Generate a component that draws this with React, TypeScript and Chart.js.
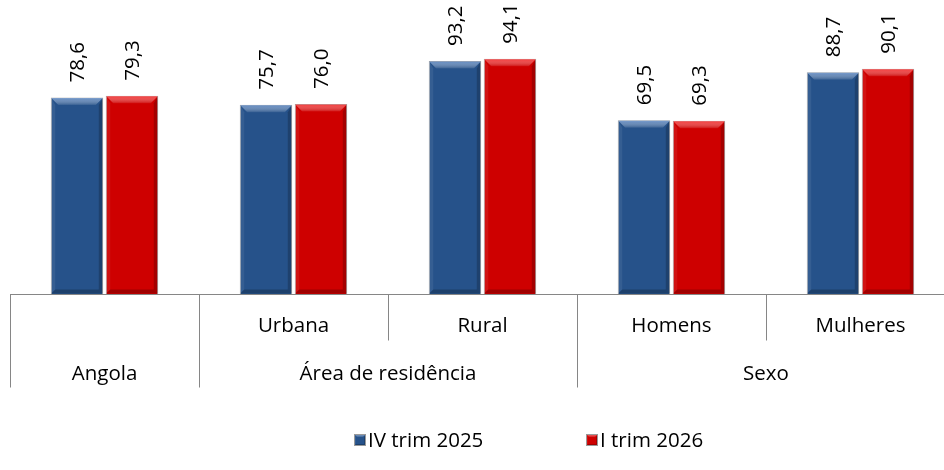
import React, { useEffect, useRef } from "react";
import { Chart, registerables } from "chart.js";

Chart.register(...registerables);

// ---- data ----
const categories = ["Angola", "Urbana", "Rural", "Homens", "Mulheres"];
const subLabels = ["", "Urbana", "Rural", "Homens", "Mulheres"];
const groupLabels = ["Angola", "Área de residência", "Sexo"];
const groupSpans = [1, 2, 2];
const seriesNames = ["IV trim 2025", "I trim 2026"];
const iv2025 = [78.6, 75.7, 93.2, 69.5, 88.7];
const i2026 = [79.3, 76.0, 94.1, 69.3, 90.1];
const seriesColors = ["#26528A", "#CE0000"];
const seriesLight = ["rgba(110,150,205,0.85)", "rgba(255,70,70,0.85)"];

const FONT = "'Open Sans', sans-serif";
const FS = 20.5;

function fmt(v: number) {
  return v.toFixed(1).replace(".", ",");
}

function drawBevel(ctx: CanvasRenderingContext2D, l: number, t: number, r: number, bt: number, light: string, small = false) {
  const tb = small ? 3 : 7;
  const sb = small ? 2 : 4;
  // top band
  const g = ctx.createLinearGradient(0, t, 0, t + tb);
  g.addColorStop(0, light);
  g.addColorStop(1, "rgba(255,255,255,0.08)");
  ctx.fillStyle = g;
  ctx.beginPath();
  ctx.moveTo(l, t);
  ctx.lineTo(r, t);
  ctx.lineTo(r - tb, t + tb);
  ctx.lineTo(l + tb, t + tb);
  ctx.closePath();
  ctx.fill();
  // left band
  ctx.fillStyle = "rgba(255,255,255,0.07)";
  ctx.beginPath();
  ctx.moveTo(l, t);
  ctx.lineTo(l + sb, t + tb);
  ctx.lineTo(l + sb, bt - sb);
  ctx.lineTo(l, bt);
  ctx.closePath();
  ctx.fill();
  // right band
  ctx.fillStyle = "rgba(0,0,0,0.2)";
  ctx.beginPath();
  ctx.moveTo(r, t);
  ctx.lineTo(r - sb, t + tb);
  ctx.lineTo(r - sb, bt - sb);
  ctx.lineTo(r, bt);
  ctx.closePath();
  ctx.fill();
  // bottom band
  ctx.fillStyle = "rgba(0,0,0,0.22)";
  ctx.beginPath();
  ctx.moveTo(l, bt);
  ctx.lineTo(l + sb, bt - sb);
  ctx.lineTo(r - sb, bt - sb);
  ctx.lineTo(r, bt);
  ctx.closePath();
  ctx.fill();
}

const decorPlugin = {
  id: "decor",
  afterDatasetsDraw(chart: any) {
    const ctx: CanvasRenderingContext2D = chart.ctx;
    ctx.save();
    chart.data.datasets.forEach((ds: any, di: number) => {
      const meta = chart.getDatasetMeta(di);
      meta.data.forEach((el: any, i: number) => {
        const l = el.x - el.width / 2 + 0.5;
        const r = el.x + el.width / 2 - 0.5;
        const t = el.y + 0.5;
        const bt = el.base - 0.5;
        drawBevel(ctx, l, t, r, bt, seriesLight[di]);
        // value label
        ctx.save();
        ctx.translate(el.x, el.y - 15);
        ctx.rotate(-Math.PI / 2);
        ctx.fillStyle = "#000";
        ctx.font = `${FS}px ${FONT}`;
        ctx.textAlign = "left";
        ctx.textBaseline = "middle";
        ctx.fillText(fmt(ds.data[i]), 0, 1);
        ctx.restore();
      });
    });
    ctx.restore();
  },
  afterDraw(chart: any) {
    const ctx: CanvasRenderingContext2D = chart.ctx;
    const area = chart.chartArea;
    const xs = chart.scales.x;
    const step = xs.getPixelForValue(1) - xs.getPixelForValue(0);
    const edge = (i: number) => xs.getPixelForValue(0) - step / 2 + i * step;
    const y0 = area.bottom + 0.5;
    const row1 = y0 + 46;
    const row2 = y0 + 93;
    ctx.save();
    ctx.strokeStyle = "#868686";
    ctx.lineWidth = 1;
    // axis line
    ctx.beginPath();
    ctx.moveTo(area.left, y0);
    ctx.lineTo(chart.width, y0);
    ctx.stroke();
    // separators
    const groupStarts: number[] = [];
    let acc = 0;
    groupSpans.forEach((s) => {
      groupStarts.push(acc);
      acc += s;
    });
    for (let i = 0; i <= categories.length; i++) {
      const full = i === categories.length || groupStarts.includes(i);
      const x = Math.round(edge(i)) + 0.5;
      ctx.beginPath();
      ctx.moveTo(x, y0);
      ctx.lineTo(x, full ? row2 : row1);
      ctx.stroke();
    }
    // labels
    ctx.fillStyle = "#000";
    ctx.font = `${FS}px ${FONT}`;
    ctx.textAlign = "center";
    ctx.textBaseline = "middle";
    subLabels.forEach((s, i) => {
      if (s) ctx.fillText(s, xs.getPixelForValue(i), y0 + 32);
    });
    groupLabels.forEach((g, gi) => {
      const a = edge(groupStarts[gi]);
      const b = edge(groupStarts[gi] + groupSpans[gi]);
      ctx.fillText(g, (a + b) / 2, y0 + 80);
    });
    // legend
    const legendX = [354, 586];
    const ly = 440;
    chart.data.datasets.forEach((ds: any, di: number) => {
      const mx = legendX[di];
      ctx.fillStyle = seriesColors[di];
      ctx.fillRect(mx, ly - 6, 12, 12);
      drawBevel(ctx, mx, ly - 6, mx + 12, ly + 6, seriesLight[di], true);
      ctx.strokeStyle = "#9a9a9a";
      ctx.strokeRect(mx + 0.5, ly - 5.5, 11, 11);
      ctx.fillStyle = "#000";
      ctx.textAlign = "left";
      ctx.fillText(ds.label, mx + 14, ly + 1);
    });
    ctx.restore();
  },
};

export default function App() {
  const ref = useRef<HTMLCanvasElement>(null);
  useEffect(() => {
    if (!ref.current) return;
    const chart = new Chart(ref.current, {
      type: "bar",
      data: {
        labels: categories,
        datasets: [
          {
            label: seriesNames[0],
            data: iv2025,
            backgroundColor: seriesColors[0],
            borderColor: "#a8a8a8",
            borderWidth: 1,
            categoryPercentage: 0.582,
            barPercentage: 0.955,
          },
          {
            label: seriesNames[1],
            data: i2026,
            backgroundColor: seriesColors[1],
            borderColor: "#a8a8a8",
            borderWidth: 1,
            categoryPercentage: 0.582,
            barPercentage: 0.955,
          },
        ],
      },
      options: {
        responsive: false,
        animation: false,
        layout: { padding: { left: 10, right: 5, top: 44, bottom: 176 } },
        plugins: { legend: { display: false }, tooltip: { enabled: false } },
        scales: {
          x: { display: false, grid: { display: false } },
          y: { display: false, min: 0, max: 100 },
        },
      },
      plugins: [decorPlugin],
    });
    return () => chart.destroy();
  }, []);
  return (
    <div style={{ position: "fixed", left: 0, top: 0, width: 944, height: 470, overflow: "hidden", background: "#fff" }}>
      <canvas ref={ref} width={960} height={470} style={{ width: 960, height: 470, display: "block" }} />
    </div>
  );
}
